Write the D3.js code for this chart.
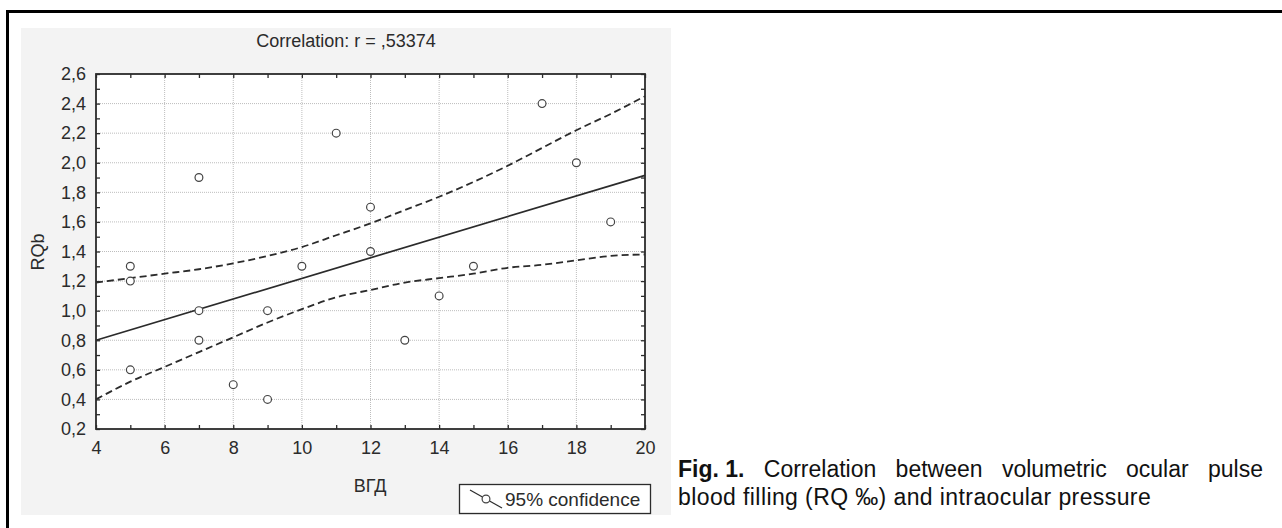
<!DOCTYPE html>
<html>
<head>
<meta charset="utf-8">
<script src="https://cdn.jsdelivr.net/npm/d3@7"></script>
<style>
  body { margin: 0; background: #fff; }
  svg { display: block; font-family: Arial, "Liberation Sans", sans-serif; }
</style>
</head>
<body>
<svg id="chart" width="1282" height="528"></svg>
<script>
// scatter data (ВГД vs RQb)
var xVals = [5, 5, 5, 7, 7, 7, 8, 9, 9, 10, 11, 12, 12, 13, 14, 15, 17, 18, 19];
var yVals = [1.3, 1.2, 0.6, 1.9, 1.0, 0.8, 0.5, 1.0, 0.4, 1.3, 2.2, 1.7, 1.4, 0.8, 1.1, 1.3, 2.4, 2.0, 1.6];

// fitted line + 95% band
var fitX = [4, 20];
var fitY = [0.80, 1.915];
var bandX = [4, 5, 6, 7, 8, 9, 10, 11, 12, 13, 14, 15, 16, 17, 18, 19, 20];
var bandUpper = [1.19, 1.22, 1.25, 1.28, 1.32, 1.37, 1.43, 1.51, 1.59, 1.68, 1.77, 1.87, 1.98, 2.10, 2.22, 2.33, 2.45];
var bandLower = [0.40, 0.52, 0.62, 0.72, 0.82, 0.92, 1.01, 1.09, 1.14, 1.19, 1.22, 1.25, 1.29, 1.31, 1.34, 1.37, 1.38];

var xTicks = [4, 6, 8, 10, 12, 14, 16, 18, 20];
var yTicks = [0.2, 0.4, 0.6, 0.8, 1.0, 1.2, 1.4, 1.6, 1.8, 2.0, 2.2, 2.4, 2.6];

var titleText = "Correlation: r = ,53374";
var xLabel = "ВГД";
var yLabel = "RQb";
var legendText = "95% confidence";
var captionBold = "Fig. 1.";
var captionLine1 = "Correlation between volumetric ocular pulse";
var captionLine2 = "blood filling (RQ ‰) and intraocular pressure";

var svg = d3.select("#chart");
var ink = "#2b2b2b";
var commaFmt = function(d){ return d3.format(".1f")(d).replace(".", ","); };

// outer frame + grey panel
svg.append("rect")
    .attr("x", 7.5).attr("y", 11.5)
    .attr("width", 1300).attr("height", 540)
    .attr("fill", "none").attr("stroke", "#000").attr("stroke-width", 3);
svg.append("rect")
    .attr("x", 21).attr("y", 28)
    .attr("width", 650).attr("height", 487)
    .attr("fill", "#f3f3f3");

var pL = 96, pT = 74, pR = 645, pB = 429;
var x = d3.scaleLinear().domain([4, 20]).range([pL, pR]);
var y = d3.scaleLinear().domain([0.2, 2.6]).range([pB, pT]);

svg.append("rect")
    .attr("x", pL).attr("y", pT)
    .attr("width", pR - pL).attr("height", pB - pT)
    .attr("fill", "#fff");

// dotted grid
var g = svg.append("g");
g.selectAll(".gx")
    .data(xTicks.slice(1, -1))
    .enter().append("line")
    .attr("x1", function(d){ return x(d); }).attr("x2", function(d){ return x(d); })
    .attr("y1", pT).attr("y2", pB)
    .attr("stroke", "#bdbdbd").attr("stroke-dasharray", "1,1");
g.selectAll(".gy")
    .data(yTicks.slice(1, -1))
    .enter().append("line")
    .attr("y1", function(d){ return y(d); }).attr("y2", function(d){ return y(d); })
    .attr("x1", pL).attr("x2", pR)
    .attr("stroke", "#bdbdbd").attr("stroke-dasharray", "1,1");

// axes on all four sides, ticks pointing inward
var minorX = d3.range(4, 21, 1);
var minorY = d3.range(2, 27, 1).map(function(d){ return d / 10; });

svg.append("g")
    .attr("transform", "translate(0," + pB + ")")
    .call(d3.axisBottom(x).tickValues(minorX).tickSize(-4).tickFormat(""))
    .call(function(a){ a.select(".domain").remove(); });
svg.append("g")
    .attr("transform", "translate(0," + pT + ")")
    .call(d3.axisTop(x).tickValues(minorX).tickSize(-4).tickFormat(""))
    .call(function(a){ a.select(".domain").remove(); });
svg.append("g")
    .attr("transform", "translate(" + pL + ",0)")
    .call(d3.axisLeft(y).tickValues(minorY).tickSize(-4).tickFormat(""))
    .call(function(a){ a.select(".domain").remove(); });
svg.append("g")
    .attr("transform", "translate(" + pR + ",0)")
    .call(d3.axisRight(y).tickValues(minorY).tickSize(-4).tickFormat(""))
    .call(function(a){ a.select(".domain").remove(); });
svg.selectAll(".tick line").attr("stroke", ink).attr("stroke-width", 1.3);

// tick labels
svg.append("g")
    .attr("transform", "translate(0," + pB + ")")
    .call(d3.axisBottom(x).tickValues(xTicks).tickSize(0).tickPadding(12).tickFormat(d3.format("d")))
    .call(function(a){ a.select(".domain").remove(); })
    .selectAll("text").attr("font-size", 18).attr("fill", ink).attr("font-family", null);
svg.append("g")
    .attr("transform", "translate(" + pL + ",0)")
    .call(d3.axisLeft(y).tickValues(yTicks).tickSize(0).tickPadding(10).tickFormat(commaFmt))
    .call(function(a){ a.select(".domain").remove(); })
    .selectAll("text").attr("font-size", 18).attr("fill", ink).attr("font-family", null);

svg.append("rect")
    .attr("x", pL).attr("y", pT)
    .attr("width", pR - pL).attr("height", pB - pT)
    .attr("fill", "none").attr("stroke", ink).attr("stroke-width", 1.8);

// regression + confidence band
var line = d3.line()
    .x(function(d){ return x(d[0]); })
    .y(function(d){ return y(d[1]); });
var curved = d3.line()
    .x(function(d){ return x(d[0]); })
    .y(function(d){ return y(d[1]); })
    .curve(d3.curveMonotoneX);

svg.append("path")
    .datum(d3.zip(fitX, fitY))
    .attr("d", line)
    .attr("fill", "none").attr("stroke", ink).attr("stroke-width", 1.7);
[bandUpper, bandLower].forEach(function(b){
    svg.append("path")
        .datum(d3.zip(bandX, b))
        .attr("d", curved)
        .attr("fill", "none").attr("stroke", ink)
        .attr("stroke-width", 1.8).attr("stroke-dasharray", "7,4");
});

// points
svg.selectAll("circle.pt")
    .data(d3.zip(xVals, yVals))
    .enter().append("circle")
    .attr("class", "pt")
    .attr("cx", function(d){ return x(d[0]); })
    .attr("cy", function(d){ return y(d[1]); })
    .attr("r", 3.9)
    .attr("fill", "#fff").attr("stroke", "#444").attr("stroke-width", 1.2);

// titles
svg.append("text")
    .attr("x", 346).attr("y", 47)
    .attr("text-anchor", "middle").attr("font-size", 18).attr("fill", ink)
    .text(titleText);
svg.append("text")
    .attr("x", 370).attr("y", 492)
    .attr("text-anchor", "middle").attr("font-size", 18).attr("fill", ink)
    .text(xLabel);
svg.append("text")
    .attr("transform", "translate(44,252) rotate(-90)")
    .attr("text-anchor", "middle").attr("font-size", 18).attr("fill", ink)
    .text(yLabel);

// legend
svg.append("rect")
    .attr("x", 459.5).attr("y", 484.5)
    .attr("width", 191).attr("height", 29)
    .attr("fill", "#fff").attr("stroke", ink).attr("stroke-width", 1.3);
svg.append("line")
    .attr("x1", 470).attr("y1", 490).attr("x2", 502).attr("y2", 508)
    .attr("stroke", ink).attr("stroke-width", 1.2);
svg.append("circle")
    .attr("cx", 486).attr("cy", 499).attr("r", 3.9)
    .attr("fill", "#fff").attr("stroke", "#444").attr("stroke-width", 1.2);
svg.append("text")
    .attr("x", 505).attr("y", 506)
    .attr("font-size", 19).attr("fill", ink)
    .text(legendText);

// caption, first line justified
var capLeft = 678, capRight = 1263, capSize = 23;
var words = [captionBold].concat(captionLine1.split(" "));
var ws = words.map(function(w, i){
    var t = svg.append("text")
        .attr("y", 477).attr("font-size", capSize).attr("fill", "#111")
        .attr("font-weight", i === 0 ? "bold" : null)
        .text(w);
    return {node: t, w: t.node().getComputedTextLength()};
});
var total = d3.sum(ws, function(d){ return d.w; });
var gap = (capRight - capLeft - total) / (ws.length - 1);
var cx = capLeft;
ws.forEach(function(d){ d.node.attr("x", cx); cx += d.w + gap; });
svg.append("text")
    .attr("x", capLeft).attr("y", 505)
    .attr("font-size", capSize).attr("fill", "#111")
    .attr("letter-spacing", 0.4)
    .text(captionLine2);
</script>
</body>
</html>
